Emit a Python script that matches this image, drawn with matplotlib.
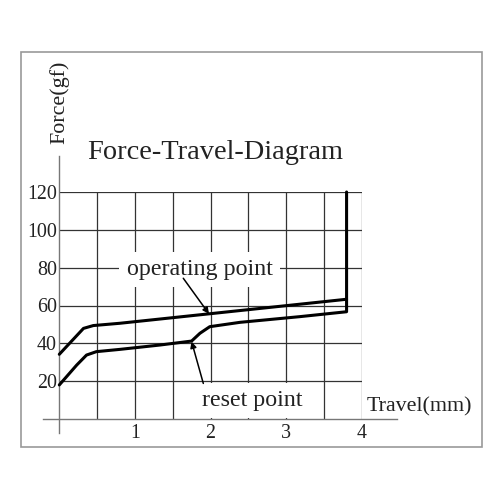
import matplotlib
matplotlib.use("Agg")
import matplotlib.pyplot as plt
from matplotlib.patches import Rectangle
import numpy as np

# ---- data ----
op_x = [0, 0.32, 0.45, 0.8, 3.80]
op_y = [34.2, 47.9, 49.4, 50.6, 63.3]

rs_x = [0, 0.23, 0.36, 0.49, 0.8, 1.33, 1.75, 1.86, 1.99, 2.39, 3.18, 3.80, 3.80]
rs_y = [18.0, 28.5, 33.8, 35.6, 36.8, 39.1, 41.2, 45.3, 48.8, 51.1, 54.1, 56.7, 120]

x_ticks = [1, 2, 3, 4]
x_tick_labels = ["1", "2", "3", "4"]
y_ticks = [20, 40, 60, 80, 100, 120]
y_tick_labels = ["20", "40", "60", "80", "100", "120"]
grid_x = [0.5, 1.0, 1.5, 2.0, 2.5, 3.0, 3.5]
grid_x_edge = [4.0]
grid_y = [20, 40, 60, 80, 100, 120]

title = "Force-Travel-Diagram"
x_label = "Travel(mm)"
y_label = "Force(gf)"
op_label = "operating point"
op_point = (1.98, 55.6)
op_tail = (1.64, 74.4)
op_text_pos = (1.856, 76.1)
rs_label = "reset point"
rs_point = (1.75, 40.9)
rs_tail = (1.905, 18.8)
rs_text_pos = (2.55, 6.8)

FONT = ["Liberation Serif", "DejaVu Serif"]

fig = plt.figure(figsize=(5, 5), dpi=100)
fig.patch.set_facecolor("white")

# outer frame
W = H = 500.0
fig.patches.append(Rectangle((20.7 / W, 1 - 447.3 / H), (482.3 - 20.7) / W, (447.3 - 52.3) / H,
                             transform=fig.transFigure, fill=False, ec="#999999", lw=1.2))

ax = fig.add_axes([59.3 / W, 1 - 419 / H, 302.4 / W, 227 / H])
ax.set_xlim(0, 4)
ax.set_ylim(0, 120)
for s in ax.spines.values():
    s.set_visible(False)

ax.set_xticks(x_ticks)
ax.set_xticklabels(x_tick_labels, fontfamily=FONT, fontsize=14.4, color="#222222")
ax.set_yticks(y_ticks)
ax.set_yticklabels(y_tick_labels, fontfamily=FONT, fontsize=14.4, color="#222222")
ax.tick_params(axis="both", length=0)
ax.tick_params(axis="x", pad=3.5)
ax.tick_params(axis="y", pad=1.8)

# grid
ax.vlines(grid_x, 0, 120, colors="#333333", lw=0.9, zorder=1)
ax.vlines(grid_x_edge, 0, 120, colors="#888888", lw=1.0, zorder=1)
ax.hlines(grid_y, 0, 4, colors="#333333", lw=0.9, zorder=1)

# axis lines extending beyond the grid
ax.plot([0, 0], [-0.0617, 1.1586], transform=ax.transAxes, color="#777777", lw=1.0,
        clip_on=False, zorder=2)
ax.plot([-0.0539, 1.1167], [0, 0], transform=ax.transAxes, color="#777777", lw=1.0,
        clip_on=False, zorder=2)

# curves
ax.plot(op_x, op_y, color="black", lw=2.2, solid_joinstyle="round", solid_capstyle="round",
        zorder=5, clip_on=False)
ax.plot(rs_x, rs_y, color="black", lw=2.2, solid_joinstyle="round", solid_capstyle="round",
        zorder=5, clip_on=False)

# labels with white boxes
ax.text(op_text_pos[0], op_text_pos[1], op_label, ha="center", va="baseline",
        fontfamily=FONT, fontsize=17.3, color="#222222", zorder=3,
        bbox=dict(boxstyle="square,pad=0.3", fc="white", ec="none"))
ax.text(rs_text_pos[0], rs_text_pos[1], rs_label, ha="center", va="baseline",
        fontfamily=FONT, fontsize=17.3, color="#222222", zorder=3,
        bbox=dict(boxstyle="square,pad=0.3", fc="white", ec="none"))

arrow = dict(arrowstyle="-|>", color="black", lw=1.1, mutation_scale=9, shrinkA=0, shrinkB=0)
ax.annotate("", xy=op_point, xytext=op_tail, arrowprops=arrow, zorder=6)
ax.annotate("", xy=rs_point, xytext=rs_tail, arrowprops=arrow, zorder=6)

# title and axis labels
fig.text(214.9 / W, 1 - 159.3 / H, title, ha="center", va="baseline",
         fontfamily=FONT, fontsize=20.4, color="#222222")
fig.text(366.7 / W, 1 - 411.7 / H, x_label, ha="left", va="baseline",
         fontfamily=FONT, fontsize=15.8, color="#222222")
fig.text(59.0 / W, 1 - 102.3 / H, y_label, ha="center", va="center", rotation=90,
         fontfamily=FONT, fontsize=15.8, color="#222222")

fig.savefig("out.png", dpi=100, facecolor="white")
